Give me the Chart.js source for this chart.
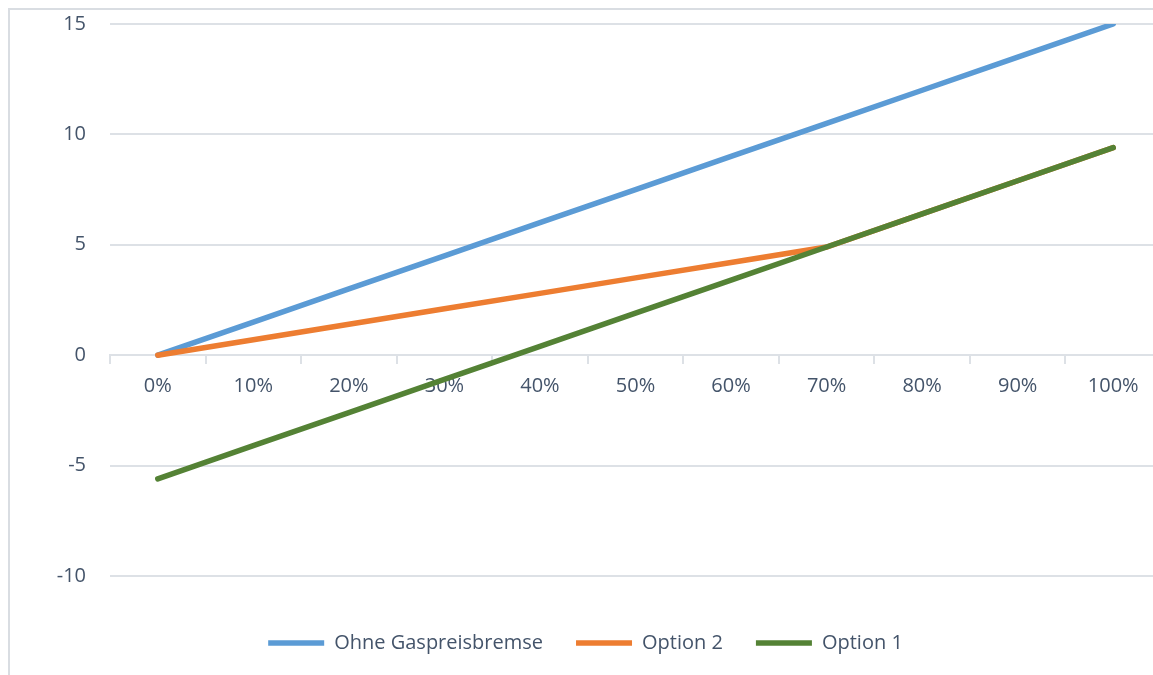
<!DOCTYPE html>
<html lang="de">
<head>
    <meta charset="UTF-8">
    <title>Gaspreisbremse</title>
    <style>
        html, body {
            margin: 0;
            padding: 0;
            overflow: hidden;
            background: #fff;
        }
        #wrap {
            width: 1165px;
            height: 675px;
        }
    </style>
</head>
<body>
    <div id="wrap"><canvas id="chart" width="1165" height="675"></canvas></div>

    <script src="https://cdn.jsdelivr.net/npm/chart.js"></script>
    <script>
        // Daten
        const categories = ['0%', '10%', '20%', '30%', '40%', '50%', '60%', '70%', '80%', '90%', '100%'];
        const ohneGaspreisbremse = [0, 1.5, 3, 4.5, 6, 7.5, 9, 10.5, 12, 13.5, 15];
        const option2 = [0, 0.7, 1.4, 2.1, 2.8, 3.5, 4.2, 4.9, 6.4, 7.9, 9.4];
        const option1 = [-5.6, -4.1, -2.6, -1.1, 0.4, 1.9, 3.4, 4.9, 6.4, 7.9, 9.4];
        const yTicks = [-10, -5, 0, 5, 10, 15];

        const textColor = '#44546a';
        const gridColor = '#dde1e6';

        // Rahmen links und oben
        const framePlugin = {
            id: 'frame',
            beforeDraw(chart) {
                const c = chart.ctx;
                c.save();
                c.strokeStyle = '#d9dde2';
                c.lineWidth = 2;
                c.beginPath();
                c.moveTo(9, chart.height);
                c.lineTo(9, 9);
                c.lineTo(chart.width, 9);
                c.stroke();
                c.restore();
            }
        };

        const ctx = document.getElementById('chart').getContext('2d');
        const chart = new Chart(ctx, {
            type: 'line',
            data: {
                labels: categories,
                datasets: [
                    {
                        label: 'Option 1',
                        data: option1,
                        borderColor: '#548235',
                        backgroundColor: '#548235',
                        borderWidth: 5.5,
                        borderCapStyle: 'round',
                        pointRadius: 0,
                        tension: 0
                    },
                    {
                        label: 'Option 2',
                        data: option2,
                        borderColor: '#ed7d31',
                        backgroundColor: '#ed7d31',
                        borderWidth: 5.5,
                        borderCapStyle: 'round',
                        pointRadius: 0,
                        tension: 0
                    },
                    {
                        label: 'Ohne Gaspreisbremse',
                        data: ohneGaspreisbremse,
                        borderColor: '#5b9bd5',
                        backgroundColor: '#5b9bd5',
                        borderWidth: 5.5,
                        borderCapStyle: 'round',
                        pointRadius: 0,
                        tension: 0
                    }
                ]
            },
            options: {
                responsive: false,
                animation: false,
                layout: {
                    padding: { left: 10, right: 4, top: 24, bottom: 12 }
                },
                font: { family: 'Open Sans' },
                plugins: {
                    tooltip: { enabled: false },
                    legend: {
                        position: 'bottom',
                        reverse: true,
                        labels: {
                            usePointStyle: true,
                            pointStyle: 'line',
                            pointStyleWidth: 56,
                            padding: 33,
                            color: textColor,
                            font: { family: 'Open Sans', size: 20 }
                        }
                    }
                },
                scales: {
                    x: {
                        type: 'category',
                        position: { y: 0 },
                        offset: true,
                        afterFit(scale) {
                            scale.paddingTop = 0;
                            scale.paddingBottom = 0;
                        },
                        grid: {
                            offset: true,
                            drawOnChartArea: false,
                            drawTicks: true,
                            tickLength: 8,
                            color: gridColor,
                            lineWidth: 2
                        },
                        border: { display: true, color: gridColor, width: 2 },
                        ticks: {
                            color: textColor,
                            padding: 11,
                            maxRotation: 0,
                            font: { family: 'Open Sans', size: 20 }
                        }
                    },
                    y: {
                        min: -11.09,
                        max: 15,
                        afterBuildTicks(scale) {
                            scale.ticks = yTicks.map(v => ({ value: v }));
                        },
                        afterFit(scale) {
                            scale.width = 100;
                            scale.paddingTop = 0;
                            scale.paddingBottom = 0;
                        },
                        grid: {
                            drawTicks: false,
                            color: gridColor,
                            lineWidth: 2
                        },
                        border: { display: false },
                        ticks: {
                            color: textColor,
                            padding: 24,
                            font: { family: 'Open Sans', size: 20 }
                        }
                    }
                }
            },
            plugins: [framePlugin]
        });
    </script>
</body>
</html>
